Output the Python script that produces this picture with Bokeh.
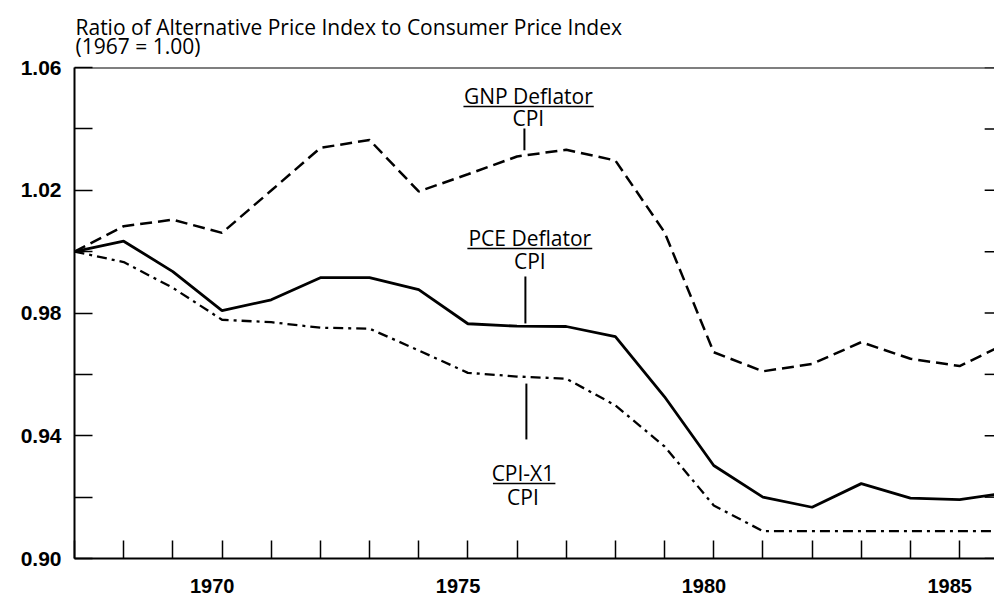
from bokeh.plotting import figure
from bokeh.models import Range1d, FixedTicker, LinearAxis, Label, Span
from bokeh.embed import file_html
from bokeh.resources import INLINE

# ---------------- data ----------------
YEARS = [1967, 1968, 1969, 1970, 1971, 1972, 1973, 1974, 1975, 1976,
         1977, 1978, 1979, 1980, 1981, 1982, 1983, 1984, 1985, 1986]
GNP_DEFLATOR = [1.000, 1.0083, 1.0104, 1.0061, 1.0199, 1.0338, 1.0364, 1.0196, 1.0252, 1.0310,
                1.0332, 1.0297, 1.0063, 0.9672, 0.9610, 0.9634, 0.9705, 0.9651, 0.9627, 0.9705]
PCE_DEFLATOR = [1.000, 1.0034, 0.9935, 0.9808, 0.9843, 0.9915, 0.9915, 0.9876, 0.9765, 0.9757,
                0.9756, 0.9723, 0.9527, 0.9303, 0.9200, 0.9167, 0.9244, 0.9197, 0.9192, 0.9215]
CPI_X1 = [1.000, 0.9966, 0.9882, 0.9778, 0.9770, 0.9752, 0.9749, 0.9678, 0.9605, 0.9593,
          0.9586, 0.9499, 0.9365, 0.9173, 0.9089, 0.9089, 0.9089, 0.9089, 0.9089, 0.9089]
Y_TICKS = [0.90, 0.92, 0.94, 0.96, 0.98, 1.00, 1.02, 1.04, 1.06]
Y_TICK_LABELS = ["0.90", "", "0.94", "", "0.98", "", "1.02", "", "1.06"]
X_TICKS = [1967, 1968, 1969, 1970, 1971, 1972, 1973, 1974, 1975, 1976,
           1977, 1978, 1979, 1980, 1981, 1982, 1983, 1984, 1985]
X_LABEL_YEARS = [1970, 1975, 1980, 1985]
TITLE_1 = "Ratio of Alternative Price Index to Consumer Price Index"
TITLE_2 = "(1967 = 1.00)"
SERIES_LABELS = [("GNP Deflator", "CPI"), ("PCE Deflator", "CPI"), ("CPI-X1", "CPI")]

ANN_FONT = "Open Sans"
TICK_FONT = "Liberation Sans"
X_START, X_END = 1967, 1985.71

p = figure(width=994, height=596,
           x_range=Range1d(X_START, X_END), y_range=Range1d(0.90, 1.06),
           output_backend="svg", toolbar_location=None,
           min_border_left=74, min_border_right=0, min_border_top=67, min_border_bottom=38)
p.grid.visible = False
p.outline_line_color = None
p.background_fill_color = "white"
p.border_fill_color = "white"

# title (two lines)
p.title.text = TITLE_1 + "\n" + TITLE_2
p.title.align = "left"
p.title.offset = 1
p.title.standoff = 14
p.title.text_font = ANN_FONT
p.title.text_font_size = "21px"
p.title.text_font_style = "normal"
p.title.text_line_height = 0.70
p.title.text_color = "black"

# bottom axis: ticks only
xa = p.xaxis[0]
xa.ticker = FixedTicker(ticks=X_TICKS)
xa.major_label_overrides = {t: "" for t in X_TICKS}
xa.major_tick_in = 18
xa.major_tick_out = 0
xa.minor_tick_line_color = None
xa.major_label_standoff = 0
xa.axis_line_width = 2
xa.major_tick_line_width = 1.5

# second bottom axis: year labels only
LABEL_POS = [yr - 0.2 for yr in X_LABEL_YEARS]
xb = LinearAxis(ticker=FixedTicker(ticks=LABEL_POS),
                major_label_overrides={pos: str(yr) for pos, yr in zip(LABEL_POS, X_LABEL_YEARS)},
                axis_line_color=None, major_tick_line_color=None, minor_tick_line_color=None,
                major_label_standoff=14, major_label_text_font=TICK_FONT,
                major_label_text_font_style="bold", major_label_text_font_size="20px",
                major_label_text_color="black")
p.add_layout(xb, "below")

# left axis
ya = p.yaxis[0]
ya.ticker = FixedTicker(ticks=Y_TICKS)
ya.major_label_overrides = {t: s for t, s in zip(Y_TICKS, Y_TICK_LABELS)}
ya.major_tick_in = 18
ya.major_tick_out = 0
ya.minor_tick_line_color = None
ya.axis_line_width = 2
ya.major_tick_line_width = 1.5
ya.major_label_standoff = 13
ya.major_label_text_font = TICK_FONT
ya.major_label_text_font_style = "bold"
ya.major_label_text_font_size = "21px"
ya.major_label_text_color = "black"

# top border line
p.add_layout(Span(location=1.06, dimension="width", line_color="black", line_width=2))

# right-hand inward ticks (no spine visible)
RIGHT_TICK_LEN = 0.2
p.segment(x0=[X_END - RIGHT_TICK_LEN] * len(Y_TICKS), y0=Y_TICKS,
          x1=[X_END] * len(Y_TICKS), y1=Y_TICKS, line_color="black", line_width=1.5)

# series
p.line(YEARS, GNP_DEFLATOR, line_color="black", line_width=2.5, line_dash="12 6")
p.line(YEARS, PCE_DEFLATOR, line_color="black", line_width=2.8)
p.line(YEARS, CPI_X1, line_color="black", line_width=2.3, line_dash="10 5 3 5")

# series annotations: (x center, numerator y, underline y, underline x0, x1, denominator y, pointer x, y0, y1)
ANN = [
    (1976.23, 1.0506, 1.0473, 1974.91, 1977.56, 1.0434, 1976.15, 1.0401, 1.0330),
    (1976.26, 1.0043, 1.0010, 1974.99, 1977.53, 0.9968, 1976.17, 0.9919, 0.9766),
    (1976.12, 0.9277, 0.9244, 1975.51, 1976.78, 0.9199, 1976.19, 0.9570, 0.9388),
]
for (num, den), (xc, yn, yu, ux0, ux1, yd, px, py0, py1) in zip(SERIES_LABELS, ANN):
    p.add_layout(Label(x=xc, y=yn, text=num, text_align="center", text_baseline="middle",
                       text_font=ANN_FONT, text_font_size="21px", text_color="black"))
    p.add_layout(Label(x=xc, y=yd, text=den, text_align="center", text_baseline="middle",
                       text_font=ANN_FONT, text_font_size="21px", text_color="black"))
    p.segment(x0=[ux0], y0=[yu], x1=[ux1], y1=[yu], line_color="black", line_width=1.5)
    p.segment(x0=[px], y0=[py0], x1=[px], y1=[py1], line_color="black", line_width=2)

open("out.html", "w").write(file_html(p, INLINE))
